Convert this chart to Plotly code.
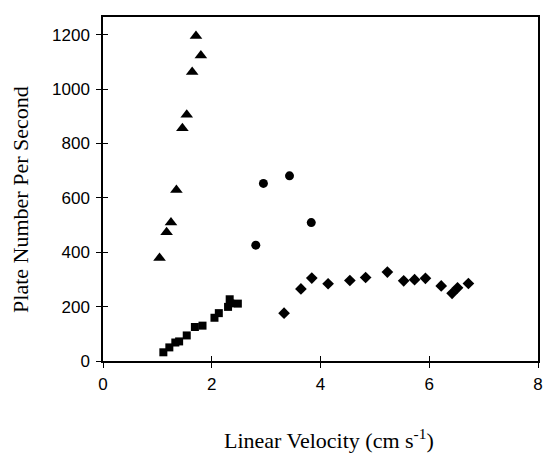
import plotly.graph_objects as go

tri_x = [1.04, 1.17, 1.25, 1.35, 1.46, 1.54, 1.64, 1.71, 1.80]
tri_y = [379, 473, 509, 629, 856, 906, 1063, 1195, 1123]

circ_x = [2.81, 2.95, 3.43, 3.83]
circ_y = [426, 653, 681, 509]

sq_x = [1.11, 1.22, 1.33, 1.40, 1.54, 1.69, 1.83, 2.05, 2.13, 2.30, 2.33, 2.34, 2.48]
sq_y = [32, 50, 68, 72, 94, 125, 130, 159, 176, 199, 227, 212, 211]

dia_x = [3.33, 3.64, 3.84, 4.14, 4.54, 4.83, 5.23, 5.53, 5.73, 5.93, 6.22, 6.42, 6.52, 6.72]
dia_y = [176, 265, 305, 284, 296, 307, 327, 295, 299, 304, 276, 249, 269, 285]

x_ticks = [0, 2, 4, 6, 8]
y_ticks = [0, 200, 400, 600, 800, 1000, 1200]
x_range = [0, 8]
y_range = [0, 1265]

x_title = "Linear Velocity (cm s<sup>-1</sup>)"
y_title = "Plate Number Per Second"

fig = go.Figure()
fig.add_trace(go.Scatter(x=tri_x, y=tri_y, mode="markers",
                         marker=dict(symbol="triangle-up", size=11, color="black")))
fig.add_trace(go.Scatter(x=circ_x, y=circ_y, mode="markers",
                         marker=dict(symbol="circle", size=9, color="black")))
fig.add_trace(go.Scatter(x=sq_x, y=sq_y, mode="markers",
                         marker=dict(symbol="square", size=8, color="black")))
fig.add_trace(go.Scatter(x=dia_x, y=dia_y, mode="markers",
                         marker=dict(symbol="diamond", size=9, color="black")))
# invisible trace to activate overlay axes carrying inside tick marks
fig.add_trace(go.Scatter(x=[None], y=[None], xaxis="x2", yaxis="y2",
                         mode="markers", hoverinfo="skip"))

serif = "Liberation Serif, Times New Roman"
fig.update_layout(
    width=547, height=455,
    margin=dict(l=103, r=4, t=17, b=94),
    paper_bgcolor="white", plot_bgcolor="white",
    showlegend=False,
    font=dict(family="Liberation Sans, Arial", size=17, color="black"),
    xaxis=dict(
        range=x_range, tickvals=x_ticks, showgrid=False, zeroline=False,
        showline=True, linecolor="black", linewidth=1.5, mirror=True,
        ticks="outside", ticklen=5, tickcolor="black", ticklabelstandoff=2,
    ),
    yaxis=dict(
        range=y_range, tickvals=y_ticks, showgrid=False, zeroline=False,
        showline=True, linecolor="black", linewidth=1.5, mirror=True,
        ticks="outside", ticklen=5, tickcolor="black", ticklabelstandoff=3,
    ),
    xaxis2=dict(
        range=x_range, tickvals=x_ticks, overlaying="x", anchor="y2",
        showgrid=False, zeroline=False, showline=False, showticklabels=False,
        ticks="inside", ticklen=5, tickcolor="black",
    ),
    yaxis2=dict(
        range=y_range, tickvals=y_ticks, overlaying="y", anchor="x2",
        showgrid=False, zeroline=False, showline=False, showticklabels=False,
        ticks="inside", ticklen=5, tickcolor="black",
    ),
    annotations=[
        dict(text=x_title, xref="paper", yref="paper", x=0.5205, y=-0.227,
             xanchor="center", yanchor="middle", showarrow=False,
             font=dict(family=serif, size=22)),
        dict(text=y_title, xref="paper", yref="paper", x=-0.1886, y=0.471,
             xanchor="center", yanchor="middle", showarrow=False, textangle=-90,
             font=dict(family=serif, size=22)),
    ],
)
fig.write_html("out.html")
